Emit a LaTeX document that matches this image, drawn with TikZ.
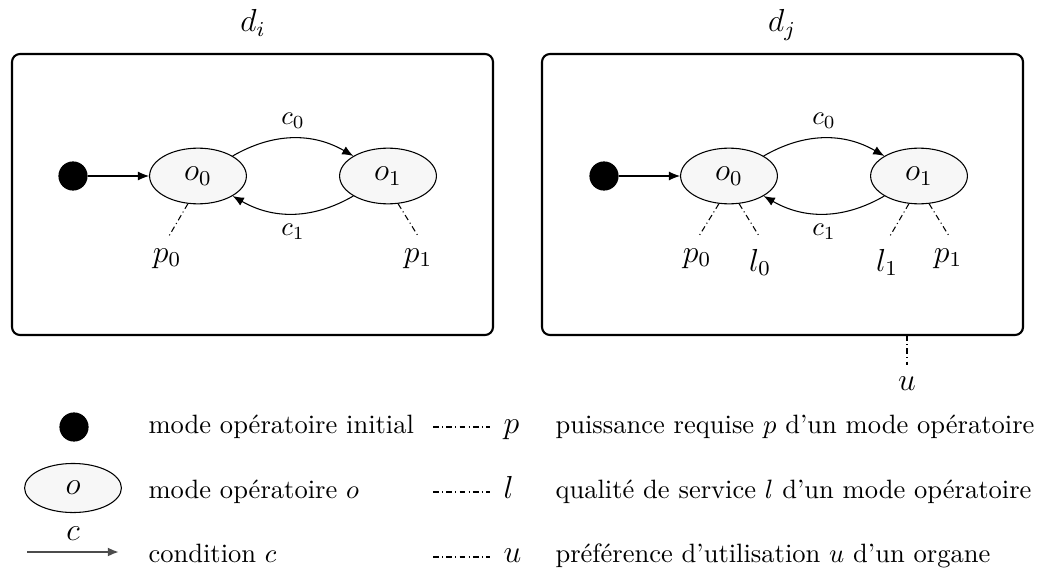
\documentclass[tikz,border=0pt]{standalone}
\usetikzlibrary{shapes.geometric,arrows.meta}
\begin{document}
\begin{tikzpicture}[x=0.377pt,y=-0.377pt,
  organ/.style={draw,line width=0.8pt,rounded corners=3pt},
  mode/.style={draw,ellipse,fill=black!3,minimum width=36.5pt,minimum height=21pt,inner sep=0pt,font=\large},
  initdot/.style={circle,fill=black,minimum size=11pt,inner sep=0pt},
  trans/.style={-{Latex[length=4.2pt,width=3.4pt]}},
  attr/.style={dash pattern=on 2.2pt off 1.2pt on 0.4pt off 1.2pt},
  lbl/.style={font=\large,anchor=base,inner sep=0pt},
  legtext/.style={anchor=base west,inner sep=0pt}]
\useasboundingbox (0,0) rectangle (1038,569);
% ---------- d_i ----------
\node[anchor=base,font=\large] (di) at (253,32) {$d_i$};
\draw[organ] (12,54) rectangle (493,335);
\node[initdot] (i0) at (73,176) {};
\node[mode] (a0) at (198,176) {$o_0$};
\node[mode] (a1) at (388,176) {$o_1$};
\draw[trans] (i0) -- (a0);
\draw[trans] (a0) to[bend left=30] node[above=0pt] (ac0) {$c_0$} (a1);
\draw[trans] (a1) to[bend left=30] node[below=0.5pt] (ac1) {$c_1$} (a0);
\node[lbl] (ap0) at (167,262) {$p_0$};
\node[lbl] (ap1) at (418,262) {$p_1$};
\coordinate (ap0e) at (169,236);
\coordinate (ap1e) at (418,236);
\draw[attr] (a0.250) -- (ap0e);
\draw[attr] (a1.290) -- (ap1e);
% ---------- d_j ----------
\node[anchor=base,font=\large] (dj) at (782,32) {$d_j$};
\draw[organ] (542,54) rectangle (1023,335);
\node[initdot] (j0) at (604,176) {};
\node[mode] (b0) at (729,176) {$o_0$};
\node[mode] (b1) at (919,176) {$o_1$};
\draw[trans] (j0) -- (b0);
\draw[trans] (b0) to[bend left=30] node[above=0pt] (bc0) {$c_0$} (b1);
\draw[trans] (b1) to[bend left=30] node[below=0.5pt] (bc1) {$c_1$} (b0);
\node[lbl] (bp0) at (697,262) {$p_0$};
\node[lbl] (bl0) at (760,271) {$l_0$};
\node[lbl] (bl1) at (887,271) {$l_1$};
\node[lbl] (bp1) at (948,262) {$p_1$};
\coordinate (bp0e) at (699,236);
\coordinate (bl0e) at (759,236);
\coordinate (bl1e) at (890,236);
\coordinate (bp1e) at (949,236);
\draw[attr] (b0.250) -- (bp0e);
\draw[attr] (b0.290) -- (bl0e);
\draw[attr] (b1.250) -- (bl1e);
\draw[attr] (b1.290) -- (bp1e);
\coordinate (ub) at (907,335);
\coordinate (ue) at (907,365);
\draw[attr] (ub) -- (ue);
\node[lbl] (u) at (907,390) {$u$};
% ---------- legend ----------
\node[initdot] (L0) at (74,427) {};
\node[legtext] (t0) at (148,433) {mode opératoire initial};
\node[mode,minimum height=18.5pt] (L1) at (73,488) {$o$};
\node[legtext] (t1) at (148,498) {mode opératoire $o$};
\coordinate (La) at (27,552);
\coordinate (Lb) at (119,552);
\draw[-{Latex[length=4.2pt,width=3.4pt]},line width=0.8pt,black!70] (La) -- (Lb);
\node[anchor=base,font=\large] (Lc) at (73,540) {$c$};
\node[legtext] (t2) at (148,562) {condition $c$};
\coordinate (Ap1) at (433,427);
\coordinate (Ap2) at (490,427);
\draw[attr] (Ap1) -- (Ap2);
\node[legtext,font=\large] (Ap) at (503,433) {$p$};
\coordinate (Al1) at (433,492);
\coordinate (Al2) at (490,492);
\draw[attr] (Al1) -- (Al2);
\node[legtext,font=\large] (Al) at (503,498) {$l$};
\coordinate (Au1) at (433,557);
\coordinate (Au2) at (490,557);
\draw[attr] (Au1) -- (Au2);
\node[legtext,font=\large] (Au) at (503,562) {$u$};
\node[legtext] (s0) at (555,433) {puissance requise $p$ d'un mode opératoire};
\node[legtext] (s1) at (555,498) {qualité de service $l$ d'un mode opératoire};
\node[legtext] (s2) at (555,562) {préférence d'utilisation $u$ d'un organe};
\end{tikzpicture}
\end{document}
